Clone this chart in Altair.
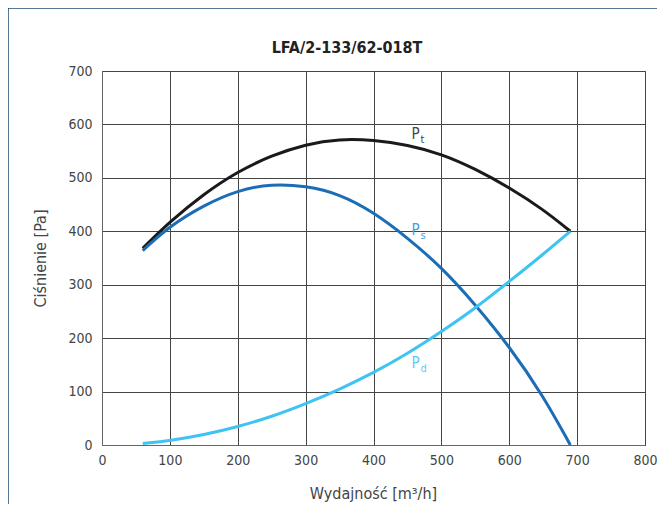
import altair as alt
import pandas as pd

# Flow [m3/h]
flow = [60, 100, 150, 200, 250, 300, 350, 400, 450, 500, 550, 600, 650, 690]
# Total pressure Pt [Pa]
p_total = [368, 418, 470, 512, 542, 563, 573, 571, 562, 545, 517, 482, 441, 400]
# Static pressure Ps [Pa]
p_static = [364, 410, 449, 477, 489, 485, 470, 436, 388, 333, 263, 185, 92, 0]
# Dynamic pressure Pd [Pa]
p_dynamic = [3, 8, 19, 34, 53, 77, 104, 135, 171, 212, 256, 306, 357, 400]

series_names = ["Pt", "Ps", "Pd"]
series_colors = ["#1a1a1a", "#1b6db5", "#3ec3f2"]

# curve labels
label_x = [456, 456, 456]
label_y = [573, 393, 144]
label_sub = ["t", "s", "d"]
label_colors = ["#444444", "#4a9bdc", "#5ccbf3"]

title_text = "LFA/2-133/62-018T"

FONT = "DejaVu Sans Condensed, Roboto, sans-serif"

rows = []
for name, vals in zip(series_names, [p_total, p_static, p_dynamic]):
    for f, v in zip(flow, vals):
        rows.append({"flow": f, "pressure": v, "series": name})
df = pd.DataFrame(rows)

labels = pd.DataFrame({"x": label_x, "y": label_y, "sub": label_sub, "col": label_colors})

xscale = alt.Scale(domain=[0, 800], nice=False)
yscale = alt.Scale(domain=[0, 700], nice=False)

lines = alt.Chart(df).mark_line(strokeWidth=3, interpolate="basis").encode(
    x=alt.X("flow:Q", scale=xscale,
            axis=alt.Axis(title="Wydajność [m³/h]", values=list(range(0, 801, 100)),
                          labelFlush=False,
                          titleX=271, titleY=53, titleBaseline="alphabetic", titleAlign="center")),
    y=alt.Y("pressure:Q", scale=yscale,
            axis=alt.Axis(title="Ciśnienie [Pa]", values=list(range(0, 701, 100)),
                          titleX=-62, titleY=187, titleAngle=-90, titleBaseline="middle",
                          titleAlign="center")),
    color=alt.Color("series:N", scale=alt.Scale(domain=series_names, range=series_colors), legend=None),
    detail="series:N",
)

p_text = alt.Chart(labels).mark_text(align="left", baseline="alphabetic", fontSize=15, font=FONT).encode(
    x="x:Q", y="y:Q", text=alt.value("P"), color=alt.Color("col:N", scale=None)
)
sub_text = alt.Chart(labels).mark_text(align="left", baseline="alphabetic", fontSize=11, dx=9, dy=4, font=FONT).encode(
    x="x:Q", y="y:Q", text="sub:N", color=alt.Color("col:N", scale=None)
)

title_mark = alt.Chart(pd.DataFrame({"t": [title_text]})).mark_text(
    align="center", baseline="alphabetic", fontSize=16, fontWeight="bold", font=FONT,
    color="#222222", clip=False
).encode(text="t:N", x=alt.value(245), y=alt.value(-18))

border = alt.Chart(pd.DataFrame({"a": [0]})).mark_rect(
    filled=False, stroke="#1f4e79", strokeWidth=1.5, clip=False
).encode(
    x=alt.value(-94), x2=alt.value(700), y=alt.value(-63), y2=alt.value(500)
)

chart = alt.layer(lines, p_text, sub_text, title_mark, border).properties(
    width=543, height=374,
    autosize=alt.AutoSizeParams(type="none"),
    padding={"left": 94, "top": 63, "right": 12, "bottom": 59},
).configure_view(stroke="#555555", strokeWidth=1).configure_axis(
    grid=True, gridColor="#444444", gridWidth=1, gridOpacity=1,
    domainColor="#666666", ticks=False,
    labelFont=FONT, labelFontSize=14, labelColor="#444444",
    titleFont=FONT, titleFontSize=16, titleColor="#444444", titleFontWeight="normal",
).configure_axisX(labelPadding=8).configure_axisY(labelPadding=10)

chart.save("out.html", embed_options={"renderer": "svg", "actions": False})
